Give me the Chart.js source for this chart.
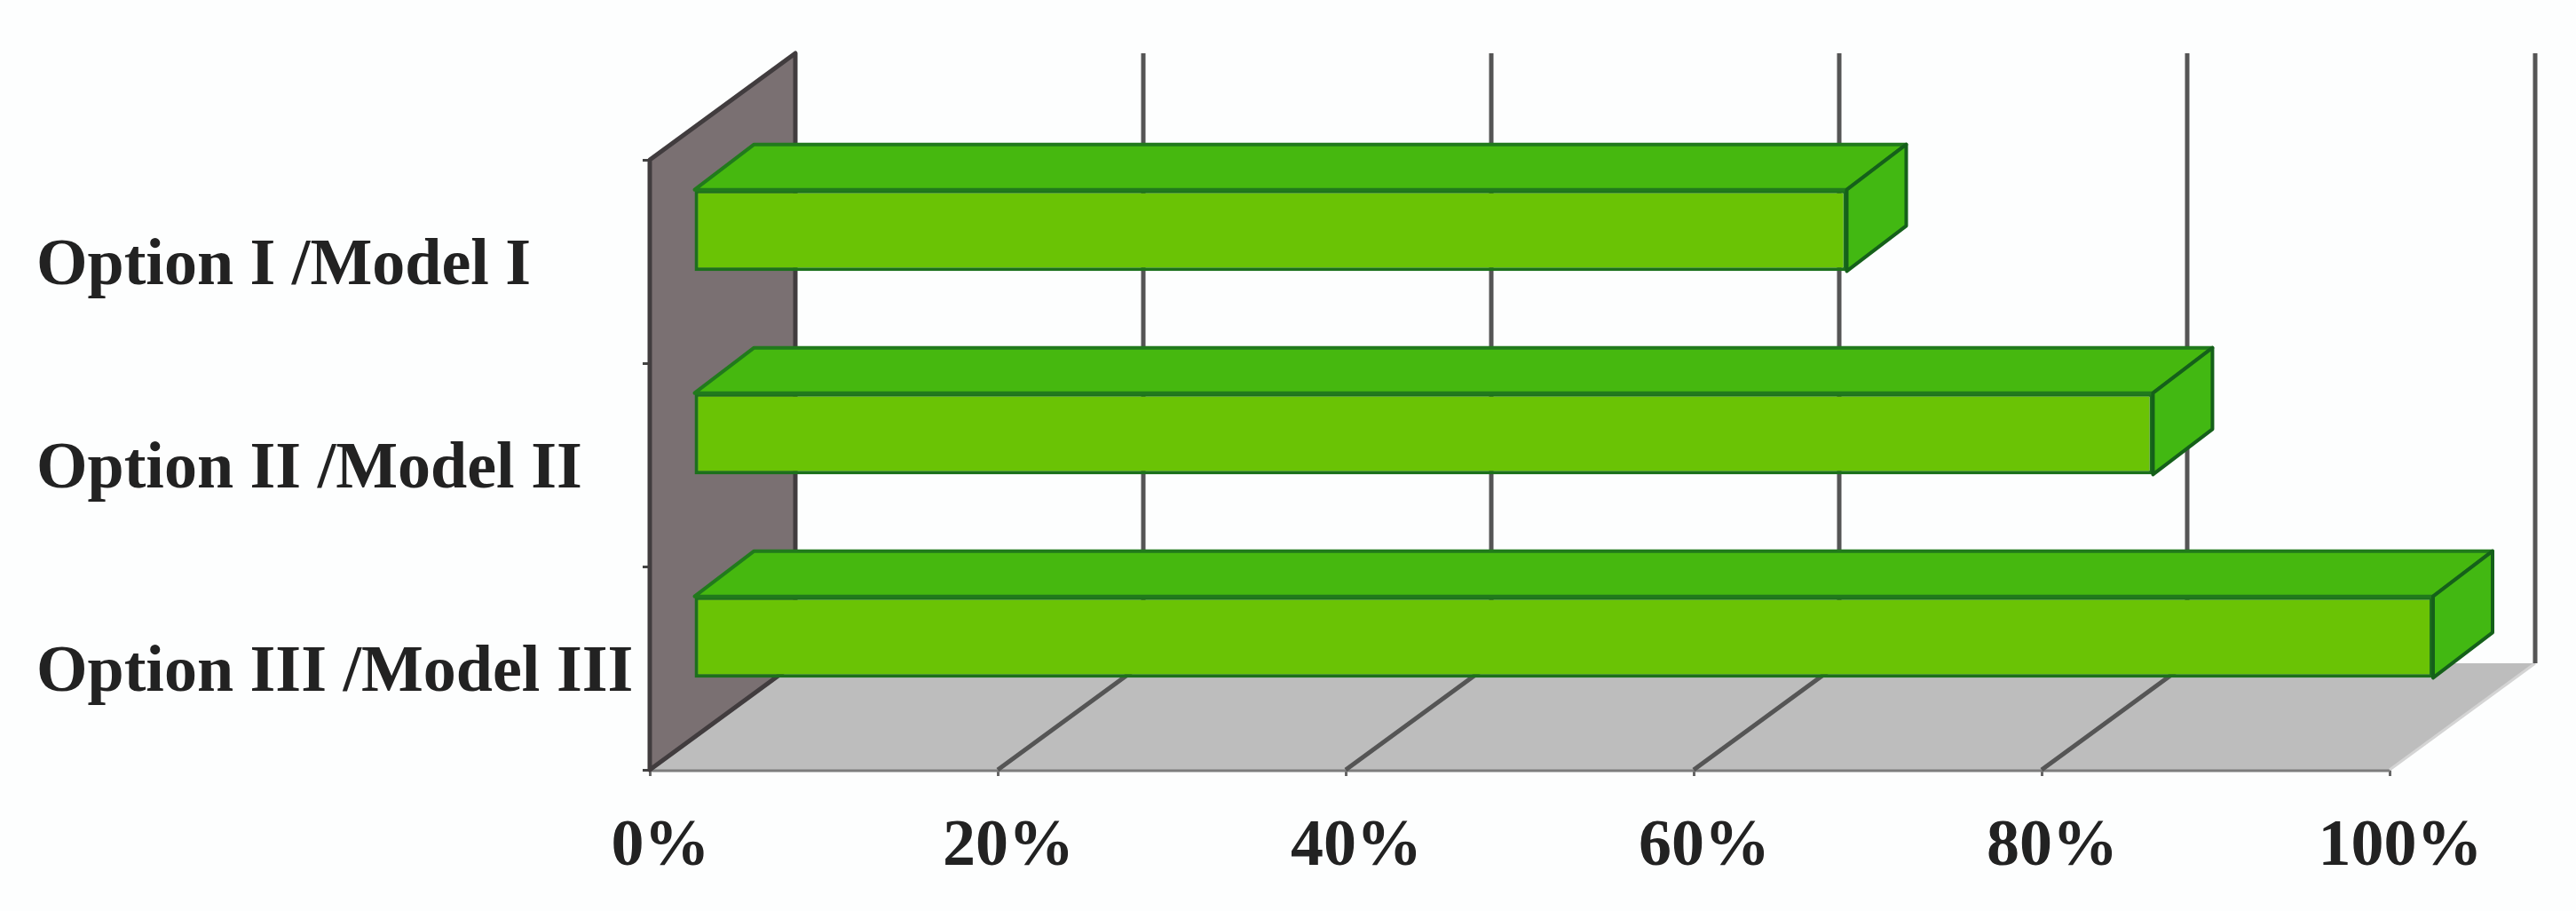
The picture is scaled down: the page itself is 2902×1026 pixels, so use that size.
<!DOCTYPE html>
<html>
<head>
<meta charset="utf-8">
<title>Options and models</title>
<script src="https://cdn.jsdelivr.net/npm/chart.js@4/dist/chart.umd.min.js"></script>
<style>
html, body { margin: 0; padding: 0; background: #fdfefe; }
canvas { display: block; }
</style>
</head>
<body>
<canvas id="chart" width="2902" height="1026"></canvas>
<script>
const categories = ['Option I /Model I', 'Option II /Model II', 'Option III /Model III'];
const percentValues = [66.3, 83.9, 100];
const percentTicks = [0, 20, 40, 60, 80, 100];

// fake 3d offsets, in px
const depthX = 164, depthY = -120;      // front of the box to the back wall
const barShiftX = 49, barShiftY = -35;  // bars stand in the middle of the box
const barDepthX = 67, barDepthY = -51;

const fontName = '"Liberation Serif", serif';

function poly(ctx, pts, fill, stroke, width) {
    ctx.beginPath();
    ctx.moveTo(pts[0][0], pts[0][1]);
    for (let i = 1; i < pts.length; i++) ctx.lineTo(pts[i][0], pts[i][1]);
    ctx.closePath();
    if (fill) { ctx.fillStyle = fill; ctx.fill(); }
    if (stroke) { ctx.strokeStyle = stroke; ctx.lineWidth = width; ctx.lineJoin = 'round'; ctx.stroke(); }
}

const box3d = {
    id: 'box3d',
    beforeDatasetsDraw(chart) {
        const ctx = chart.ctx, a = chart.chartArea, xs = chart.scales.x;
        ctx.save();
        // floor
        poly(ctx, [[a.left, a.bottom], [a.left + depthX, a.bottom + depthY],
                   [a.right + depthX, a.bottom + depthY], [a.right, a.bottom]], '#bdbdbd');
        ctx.strokeStyle = '#7d7d7d';
        ctx.lineWidth = 3;
        ctx.beginPath();
        ctx.moveTo(a.left, a.bottom + 1);
        ctx.lineTo(a.right, a.bottom + 1);
        ctx.stroke();
        ctx.strokeStyle = '#d4d4d4';
        ctx.beginPath();
        ctx.moveTo(a.right, a.bottom);
        ctx.lineTo(a.right + depthX, a.bottom + depthY);
        ctx.stroke();
        // grid on floor and back wall
        ctx.strokeStyle = '#555555';
        ctx.lineWidth = 5;
        percentTicks.slice(1).forEach(function (v) {
            const px = xs.getPixelForValue(v);
            ctx.beginPath();
            if (v < 100) {
                ctx.moveTo(px, a.bottom);
                ctx.lineTo(px + depthX, a.bottom + depthY);
            } else {
                ctx.moveTo(px + depthX, a.bottom + depthY);
            }
            ctx.lineTo(px + depthX, a.top + depthY);
            ctx.stroke();
        });
        // left wall
        poly(ctx, [[a.left, a.top], [a.left + depthX, a.top + depthY],
                   [a.left + depthX, a.bottom + depthY], [a.left, a.bottom]], '#7a7072', '#413c3e', 5);
        ctx.translate(barShiftX, barShiftY);
    },
    afterDatasetsDraw(chart) {
        const ctx = chart.ctx;
        chart.getDatasetMeta(0).data.forEach(function (bar) {
            const p = bar.getProps(['x', 'y', 'base', 'height']);
            const t = p.y - p.height / 2, b = p.y + p.height / 2;
            poly(ctx, [[p.base, t], [p.base + barDepthX, t + barDepthY],
                       [p.x + barDepthX, t + barDepthY], [p.x, t]], '#46b80f', '#217a1c', 4);
            poly(ctx, [[p.x, t], [p.x + barDepthX, t + barDepthY],
                       [p.x + barDepthX, b + barDepthY], [p.x, b]], '#42b812', '#15601a', 4);
        });
        ctx.restore();
    }
};

new Chart(document.getElementById('chart'), {
    type: 'bar',
    data: {
        labels: categories,
        datasets: [{
            data: percentValues,
            backgroundColor: '#6ac305',
            borderColor: '#1c701c',
            borderWidth: 4,
            borderSkipped: false,
            barPercentage: 0.4,
            categoryPercentage: 1
        }]
    },
    options: {
        indexAxis: 'y',
        responsive: false,
        animation: false,
        devicePixelRatio: 1,
        layout: { padding: { left: 41, right: 210, top: 180, bottom: 0 } },
        plugins: { legend: { display: false }, tooltip: { enabled: false } },
        scales: {
            x: {
                min: 0,
                max: 100,
                afterBuildTicks(scale) { scale.ticks = percentTicks.map(v => ({ value: v })); },
                afterFit(scale) { scale.height = 159; },
                grid: { drawOnChartArea: false, color: '#666666', lineWidth: 3, tickLength: 7 },
                border: { display: false },
                ticks: {
                    maxRotation: 0,
                    autoSkip: false,
                    padding: 36,
                    labelOffset: 12,
                    color: '#222222',
                    font: { family: fontName, size: 74, weight: 'bold' },
                    callback: v => v + '%'
                }
            },
            y: {
                afterFit(scale) { scale.width = 691; },
                grid: { drawOnChartArea: false, color: '#444444', lineWidth: 3, tickLength: 8 },
                border: { display: false },
                ticks: {
                    crossAlign: 'far',
                    labelOffset: 6,
                    color: '#222222',
                    font: { family: fontName, size: 74, weight: 'bold' }
                }
            }
        }
    },
    plugins: [box3d]
});
</script>
</body>
</html>
